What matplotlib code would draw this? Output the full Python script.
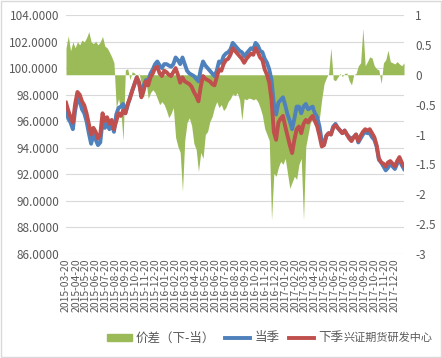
import numpy as np
import pandas as pd
import matplotlib
matplotlib.use("Agg")
import matplotlib.pyplot as plt
import matplotlib.dates as mdates
from matplotlib.patches import Patch, Rectangle
from matplotlib.lines import Line2D

plt.rcParams['font.family'] = ['Noto Sans CJK SC', 'DejaVu Sans']

# weekly samples, 2015-03-20 .. 2018-01-19
dates = pd.date_range('2015-03-20', periods=149, freq='7D')

# 当季 (current quarter), left axis
current = [
    97.0, 96.2, 95.9, 95.4, 96.8, 97.7, 97.5, 96.9, 96.6, 96.0,
    95.1, 94.3, 95.0, 94.6, 94.2, 94.4, 96.0, 95.5, 95.8, 95.4,
    95.8, 95.2, 96.5, 97.0, 97.1, 97.3, 96.6, 97.2, 97.8, 98.3,
    98.8, 99.3, 98.9, 98.0, 98.7, 99.1, 99.1, 99.6, 99.9, 100.3,
    100.5, 100.2, 100.0, 100.3, 100.3, 100.2, 100.1, 100.3, 100.8, 100.6,
    100.3, 100.8, 100.3, 99.8, 99.6, 99.5, 99.4, 99.2, 99.0, 99.9,
    100.5, 100.2, 100.0, 99.8, 99.6, 99.4, 99.8, 100.5, 100.4, 100.9,
    101.1, 101.2, 101.4, 101.9, 101.7, 101.5, 101.3, 101.2, 100.9, 101.1,
    101.3, 101.5, 101.4, 101.9, 101.7, 101.3, 101.2, 100.7, 100.4, 99.9,
    99.1, 97.3, 96.5, 97.4, 97.6, 97.8, 97.2, 96.5, 96.0, 95.4,
    96.2, 97.1, 97.1, 96.6, 97.1, 97.3, 96.9, 97.0, 97.1, 96.6,
    96.3, 95.6, 94.5, 94.3, 94.9, 95.1, 95.0, 95.6, 95.8, 95.5,
    95.3, 95.1, 95.3, 95.0, 94.8, 94.7, 94.8, 95.0, 94.4, 94.7,
    95.0, 95.2, 95.1, 95.1, 94.8, 94.6, 94.1, 93.1, 92.9, 92.6,
    92.3, 92.5, 92.8, 92.6, 92.4, 92.8, 93.1, 92.7, 92.4,
]

# 下季 (next quarter), left axis
next_q = [
    97.4, 96.8, 96.3, 95.9, 97.3, 98.2, 98.0, 97.5, 97.2, 96.6,
    95.8, 95.0, 95.5, 95.2, 94.7, 95.0, 96.6, 96.0, 96.3, 95.8,
    96.1, 95.4, 96.0, 96.6, 96.4, 96.8, 96.6, 97.3, 97.7, 98.3,
    98.8, 99.3, 98.9, 97.8, 98.3, 99.0, 98.7, 99.3, 99.6, 100.0,
    100.1, 99.6, 99.4, 99.8, 99.7, 99.5, 99.4, 99.7, 100.0, 99.5,
    98.9, 99.3, 99.0, 98.9, 98.8, 98.6, 98.2, 97.9, 97.5, 98.6,
    99.4, 99.2, 99.1, 99.0, 98.8, 98.7, 99.3, 99.9, 99.8, 100.3,
    100.6, 100.7, 101.0, 101.5, 101.3, 101.1, 100.9, 100.7, 100.4, 100.7,
    100.9, 101.1, 101.0, 101.5, 101.2, 100.8, 100.6, 99.9, 99.5, 98.9,
    97.6, 95.2, 94.6, 95.9, 96.2, 96.4, 95.6, 94.9, 94.2, 93.6,
    94.6, 95.4, 95.6, 95.1, 95.8, 96.1, 95.9, 96.2, 96.4, 96.0,
    95.6, 94.9, 94.1, 94.2, 94.9, 95.1, 95.0, 95.5, 95.7, 95.5,
    95.3, 95.1, 95.3, 95.0, 94.7, 94.5, 94.8, 95.0, 94.5, 94.9,
    95.2, 95.4, 95.3, 95.4, 95.1, 94.8, 94.2, 93.2, 92.9, 92.8,
    92.6, 92.9, 93.0, 92.8, 92.6, 93.0, 93.3, 92.9, 92.6,
]

# 价差（下-当）, right axis
spread = [
    0.45, 0.65, 0.40, 0.55, 0.45, 0.55, 0.50, 0.58, 0.55, 0.62,
    0.72, 0.55, 0.52, 0.56, 0.50, 0.55, 0.64, 0.48, 0.45, 0.38,
    0.30, 0.20, -0.55, -0.40, -0.60, -1.10, 0.08, 0.10, -0.08, 0.05,
    0.03, -0.05, 0.02, -0.15, -0.37, -0.10, -0.40, -0.30, -0.25, -0.30,
    -0.40, -0.50, -0.45, -0.50, -0.60, -0.72, -0.65, -0.55, -1.05, -1.20,
    -1.30, -1.95, -1.10, -0.80, -0.72, -0.85, -1.15, -1.25, -1.62, -1.30,
    -1.40, -1.00, -0.95, -0.78, -0.70, -0.55, -0.45, -0.55, -0.50, -0.60,
    -0.55, -0.45, -0.40, -0.32, -0.35, -0.30, -0.42, -0.76, -0.40, -0.42,
    -0.39, -0.40, -0.42, -0.40, -0.45, -0.55, -0.68, -0.90, -1.00, -1.10,
    -2.43, -1.65, -1.70, -1.55, -1.45, -1.50, -1.40, -1.65, -1.90, -1.80,
    -1.70, -1.75, -1.50, -1.40, -2.43, -1.20, -1.00, -0.80, -0.75, -0.55,
    -0.75, -0.72, -0.40, -0.15, -0.05, 0.02, 0.45, -0.08, -0.10, -0.04,
    0.02, -0.03, 0.02, 0.03, -0.10, -0.17, 0.00, 0.02, 0.15, 0.20,
    0.78, 0.15, 0.22, 0.30, 0.28, 0.15, 0.10, 0.08, -0.15, 0.20,
    0.25, 0.41, 0.22, 0.20, 0.18, 0.22, 0.18, 0.15, 0.20,
]

left_ticks = np.arange(86, 105, 2)
right_ticks = np.arange(-3, 1.01, 0.5)

green = '#9BBB59'
blue = '#4F81BD'
red = '#C0504D'
grey = '#595959'

fig = plt.figure(figsize=(4.42, 3.58), dpi=100)
ax = fig.add_axes([66 / 442, 1 - 254 / 358, 338 / 442, 239 / 358])

# spread area lives on the bottom axes so it sits behind the lines
for f in (left_ticks - 86) / 18:
    ax.plot([0, 1], [f, f], transform=ax.transAxes, color='#D9D9D9', lw=0.8, zorder=0)
ax.fill_between(dates, 0, spread, color=green, lw=0, zorder=1)
ax.set_ylim(-3, 1)
ax.set_yticks(right_ticks)
ax.set_yticklabels(['{:g}'.format(v) for v in right_ticks])

ax2 = ax.twinx()
ax2.plot(dates, current, color=blue, lw=2.8)
ax2.plot(dates, next_q, color=red, lw=2.8)
ax2.set_ylim(86, 104)
ax2.set_yticks(left_ticks)
ax2.set_yticklabels(['{:.4f}'.format(v) for v in left_ticks])
ax2.yaxis.tick_left()
ax.yaxis.tick_right()

ax.set_xlim(pd.Timestamp('2015-03-20'), pd.Timestamp('2018-01-19'))
ax.xaxis.set_major_locator(mdates.MonthLocator(bymonthday=20))
ax.xaxis.set_major_formatter(mdates.DateFormatter('%Y-%m-%d'))

for a in (ax, ax2):
    for s in a.spines.values():
        s.set_visible(False)
    a.tick_params(length=0, colors=grey, labelsize=8.5)
ax.tick_params(axis='x', labelrotation=90, labelsize=7.5, pad=3)
ax.tick_params(axis='y', pad=8)
ax2.tick_params(axis='y', pad=5)

handles = [Patch(color=green, label='价差（下-当）'),
           Line2D([], [], color=blue, lw=2.8, label='当季'),
           Line2D([], [], color=red, lw=2.8, label='下季')]
fig.legend(handles=handles, loc='center left', bbox_to_anchor=(96 / 442, 1 - 338 / 358),
           ncol=3, frameon=False, fontsize=9, handlelength=2.0, handleheight=0.5,
           columnspacing=0.8, handletextpad=0.3, labelcolor=grey)
fig.text(343 / 442, 1 - 338 / 358, '兴证期货研发中心', fontsize=8, color=grey, va='center')

fig.patches.append(Rectangle((0.002, 0.003), 0.996, 0.994, transform=fig.transFigure,
                             fill=False, edgecolor='#D9D9D9', lw=1))
fig.savefig('out.png', dpi=100)
